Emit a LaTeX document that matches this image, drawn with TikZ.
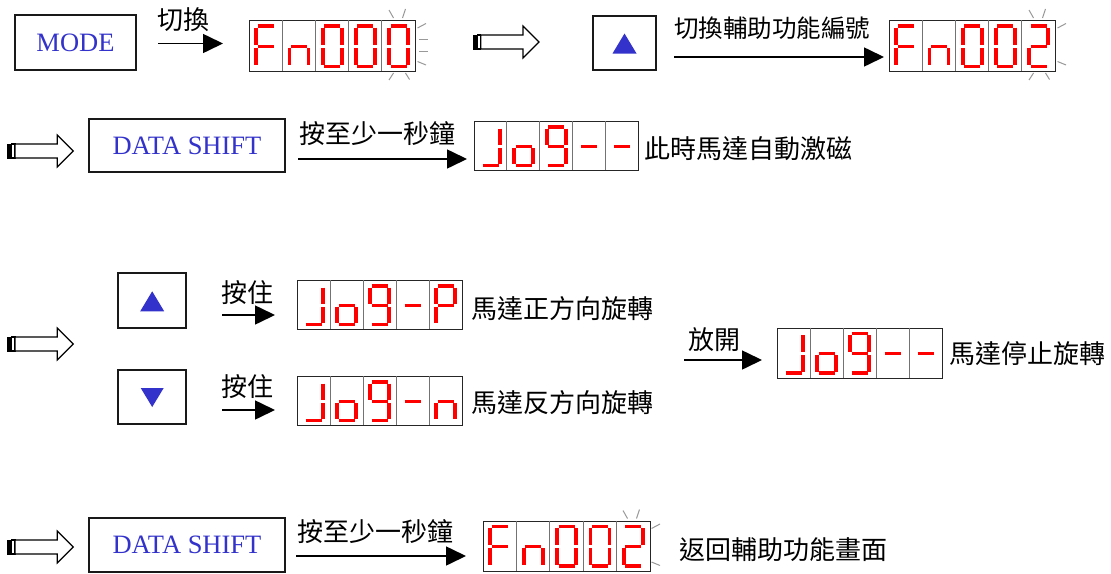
\documentclass[tikz,border=0pt]{standalone}
\usepackage{fontspec}
\setmainfont{Liberation Serif}
\newfontfamily\cjk{Noto Sans CJK TC}
\usetikzlibrary{arrows.meta}
\definecolor{btnblue}{HTML}{3333CC}
\definecolor{segred}{HTML}{FF0000}
\definecolor{blinkgray}{HTML}{999999}

% seven-segment digit definitions (corner pairs)
\def\segF{TL/TR,TL/ML,ML/BL,ML/MR}
\def\segn{ML/MR,ML/BL,MR/BR}
\def\segO{TL/TR,TR/MR,MR/BR,BL/BR,ML/BL,TL/ML}
\def\segZ{TL/TR,TR/MR,ML/MR,ML/BL,BL/BR}
\def\segJ{TR/MR,MR/BR,BL/BR}
\def\sego{ML/MR,MR/BR,BL/BR,ML/BL}
\def\segG{TL/TR,TR/MR,MR/BR,BL/BR,TL/ML,ML/MR}
\def\segD{ML/MR}
\def\segP{TL/TR,TR/MR,ML/MR,ML/BL,TL/ML}

\newcommand\segdisplay[6]{%
  \node[dispbox, minimum width=#4pt, minimum height=#5pt, anchor=north west] (#1) at (#2,#3) {};
  \foreach \dg [count=\i from 0] in {#6}{%
    \pgfmathsetmacro\cx{#2+\i*#4/5}%
    \pgfmathsetmacro\yM{#5/2+1}%
    \pgfmathsetmacro\yB{#5-4.5}%
    \edef\thesegs{\csname seg\dg\endcsname}%
    \ifnum\i>0 \draw[divider] (\cx,#3) -- ++(0,#5);\fi
    \begin{scope}[shift={(\cx,#3)}]
      \coordinate (TL) at (7.2,6);
      \coordinate (TR) at (26.2,6);
      \coordinate (ML) at (7.2,\yM);
      \coordinate (MR) at (26.2,\yM);
      \coordinate (BL) at (7.2,\yB);
      \coordinate (BR) at (26.2,\yB);
      \foreach \u/\v in \thesegs {\draw[segline] (\u) -- (\v);}
    \end{scope}
  }%
}

\newcommand\hollowarrow[2]{%
  \begin{scope}[shift={(#1,#2)}]
    \fill[black] (0,-7.5) rectangle (4.4,7.5);
    \draw[hollow] (4.4,-7) rectangle (7.7,7);
    \draw[hollow] (7.7,-7) -- (50,-7) -- (50,-16) -- (66,0) -- (50,16) -- (50,7) -- (7.7,7) -- cycle;
  \end{scope}}

\def\marksTop{\draw[blinkline] (140,-10) -- (144.5,-2); \draw[blinkline] (156.5,-11) -- (153.5,-2);}
\def\marksBottom{\draw[blinkline] (144.5,53) -- (140,60); \draw[blinkline] (156.5,53) -- (160.5,59.5);}
\def\marksRightTwo{\draw[blinkline] (168.5,8) -- (177,3.5); \draw[blinkline] (168.5,41.5) -- (177,45);}
\def\marksRightMid{\draw[blinkline] (170,19.5) -- (178.5,19.5); \draw[blinkline] (170,31.5) -- (178.5,31.5);}

\begin{document}
\begin{tikzpicture}[x=1pt,y=-1pt,
  btn/.style={draw=black!90, line width=1.8pt, inner sep=0pt, text=btnblue, font=\fontsize{26.5}{26.5}\selectfont},
  dispbox/.style={draw=black!85, line width=1pt, inner sep=0pt},
  divider/.style={draw=black!55, line width=1pt},
  segline/.style={draw=segred, line width=3.8pt, line cap=butt, shorten <=1.5pt, shorten >=1.5pt},
  blinkline/.style={draw=blinkgray, line width=1pt},
  hollow/.style={draw=black, line width=1.2pt, fill=white, line join=miter},
  lbl/.style={inner sep=0pt, font=\cjk\fontsize{26}{26}\selectfont},
  arr/.style={draw=black, line width=1.6pt, -{Triangle[length=20pt,width=19pt]}}
]
\fill[white] (0,0) rectangle (1111,573);
\useasboundingbox (0,0) rectangle (1111,573);

% ---------- row 1 ----------
\node[btn, minimum width=121pt, minimum height=55pt] (mode) at (75.5,42.5) {MODE};
\node[lbl] (l1) at (183.8,20) {切換};
\coordinate (a1s) at (158,43.5); \coordinate (a1e) at (223,43.5);
\draw[arr] (a1s) -- (a1e);
\segdisplay{d1}{249}{20}{166}{51}{F,n,O,O,O}
\begin{scope}[shift={(249,20)}]\marksTop\marksRightTwo\marksRightMid\marksBottom\end{scope}

\hollowarrow{473}{42}
\node[btn, minimum width=63pt, minimum height=54pt] (up1) at (624.5,43) {};
\fill[btnblue] ([shift={(0,-9.5)}]up1.center) -- ([shift={(-12,10.5)}]up1.center) -- ([shift={(12,10.5)}]up1.center) -- cycle;
\node[lbl, font=\cjk\fontsize{24.5}{24.5}\selectfont] (l2) at (772,28.5) {切換輔助功能編號};
\coordinate (a2s) at (674,57); \coordinate (a2e) at (884,57);
\draw[arr] (a2s) -- (a2e);
\segdisplay{d2}{889}{20}{166}{51}{F,n,O,O,Z}
\begin{scope}[shift={(889,20)}]\marksTop\marksRightTwo\marksBottom\end{scope}

% ---------- row 2 ----------
\hollowarrow{7.3}{151}
\node[btn, minimum width=196pt, minimum height=53pt] (ds1) at (187,145.5) {DATA SHIFT};
\node[lbl] (l3) at (377,133.5) {按至少一秒鐘};
\coordinate (a3s) at (298,159); \coordinate (a3e) at (467,159);
\draw[arr] (a3s) -- (a3e);
\segdisplay{d3}{474}{121}{164}{49}{J,o,G,D,D}
\node[lbl] (l4) at (748.5,148.5) {此時馬達自動激磁};

% ---------- middle ----------
\hollowarrow{7.3}{344}
\node[btn, minimum width=68pt, minimum height=55pt] (up2) at (152.2,300.8) {};
\fill[btnblue] ([shift={(0,-9.5)}]up2.center) -- ([shift={(-12,10.5)}]up2.center) -- ([shift={(12,10.5)}]up2.center) -- cycle;
\node[btn, minimum width=68pt, minimum height=54pt] (dn) at (152.2,397) {};
\fill[btnblue] ([shift={(0,10)}]dn.center) -- ([shift={(-11.5,-9)}]dn.center) -- ([shift={(11.5,-9)}]dn.center) -- cycle;

\node[lbl] (l5) at (247.5,292.5) {按住};
\coordinate (a4s) at (222,315); \coordinate (a4e) at (275,315);
\draw[arr] (a4s) -- (a4e);
\node[lbl] (l6) at (247.5,386.7) {按住};
\coordinate (a5s) at (222,410); \coordinate (a5e) at (275,410);
\draw[arr] (a5s) -- (a5e);

\segdisplay{d4}{297}{280}{165}{49}{J,o,G,D,P}
\node[lbl] (l7) at (562.5,308.5) {馬達正方向旋轉};
\segdisplay{d5}{297}{376}{165}{49}{J,o,G,D,n}
\node[lbl] (l8) at (562.5,402.5) {馬達反方向旋轉};

\node[lbl] (l9) at (714,340) {放開};
\coordinate (a6s) at (684,360); \coordinate (a6e) at (762,360);
\draw[arr] (a6s) -- (a6e);
\segdisplay{d6}{777}{327.5}{165}{50}{J,o,G,D,D}
\node[lbl] (l10) at (1027,354) {馬達停止旋轉};

% ---------- row 5 ----------
\hollowarrow{7.3}{547}
\node[btn, minimum width=196pt, minimum height=54pt] (ds2) at (187,545) {DATA SHIFT};
\node[lbl] (l11) at (375.5,532) {按至少一秒鐘};
\coordinate (a7s) at (296,556); \coordinate (a7e) at (466,556);
\draw[arr] (a7s) -- (a7e);
\segdisplay{d7}{483}{520.5}{167}{50}{F,n,O,O,Z}
\begin{scope}[shift={(483,520.5)}]\marksTop\marksRightTwo\end{scope}
\node[lbl] (l12) at (783,549.5) {返回輔助功能畫面};
\end{tikzpicture}
\end{document}
